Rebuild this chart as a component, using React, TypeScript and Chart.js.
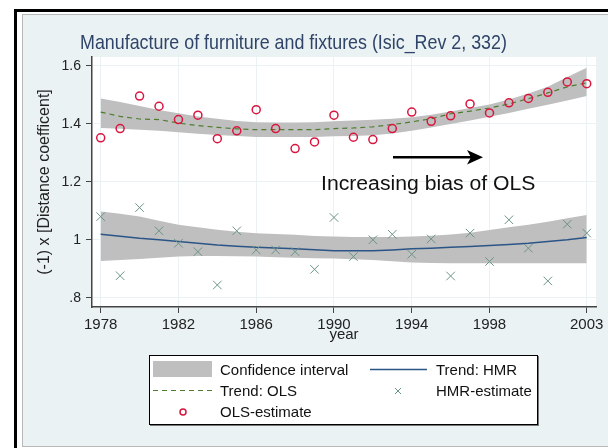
import React, { useEffect, useLayoutEffect, useRef, useState } from 'react';
import { Chart, registerables } from 'chart.js';

Chart.register(...registerables);

// ---------- data ----------
const YEARS = [1978, 1979, 1980, 1981, 1982, 1983, 1984, 1985, 1986, 1987, 1988, 1989, 1990,
  1991, 1992, 1993, 1994, 1995, 1996, 1997, 1998, 1999, 2000, 2001, 2002, 2003];

const OLS_ESTIMATE = [1.352, 1.384, 1.496, 1.461, 1.415, 1.430, 1.349, 1.376, 1.449, 1.384, 1.315, 1.338, 1.430,
  1.354, 1.346, 1.384, 1.441, 1.409, 1.428, 1.469, 1.438, 1.473, 1.488, 1.509, 1.545, 1.539];

const HMR_ESTIMATE = [1.080, 0.876, 1.111, 1.031, 0.988, 0.959, 0.844, 1.031, 0.965, 0.965, 0.959, 0.898, 1.077,
  0.942, 1.000, 1.019, 0.950, 1.003, 0.875, 1.023, 0.925, 1.069, 0.971, 0.858, 1.054, 1.023];

const OLS_TREND = [1.441, 1.426, 1.417, 1.415, 1.403, 1.394, 1.388, 1.383, 1.380, 1.380, 1.380, 1.380, 1.384,
  1.386, 1.390, 1.398, 1.407, 1.418, 1.435, 1.444, 1.455, 1.469, 1.487, 1.507, 1.528, 1.542];
const OLS_UPPER = [1.488, 1.476, 1.462, 1.448, 1.437, 1.426, 1.418, 1.410, 1.406, 1.405, 1.405, 1.406, 1.409,
  1.412, 1.414, 1.418, 1.423, 1.432, 1.443, 1.455, 1.467, 1.484, 1.505, 1.528, 1.562, 1.594];
const OLS_LOWER = [1.386, 1.383, 1.380, 1.376, 1.371, 1.366, 1.362, 1.358, 1.355, 1.355, 1.355, 1.355, 1.357,
  1.358, 1.361, 1.367, 1.376, 1.388, 1.400, 1.412, 1.425, 1.438, 1.452, 1.466, 1.481, 1.496];

const HMR_TREND = [1.019, 1.012, 1.005, 1.000, 0.994, 0.988, 0.982, 0.978, 0.974, 0.972, 0.969, 0.966, 0.962,
  0.962, 0.962, 0.965, 0.969, 0.971, 0.974, 0.977, 0.980, 0.984, 0.988, 0.994, 1.000, 1.008];
const HMR_UPPER = [1.098, 1.090, 1.080, 1.066, 1.052, 1.043, 1.035, 1.028, 1.023, 1.020, 1.017, 1.013, 1.011,
  1.010, 1.010, 1.010, 1.011, 1.014, 1.018, 1.024, 1.034, 1.043, 1.052, 1.062, 1.074, 1.086];
const HMR_LOWER = [0.927, 0.930, 0.934, 0.938, 0.942, 0.944, 0.944, 0.943, 0.942, 0.940, 0.938, 0.936, 0.935,
  0.933, 0.930, 0.926, 0.922, 0.920, 0.919, 0.919, 0.919, 0.919, 0.919, 0.919, 0.919, 0.919];

const X_TICKS = [1978, 1982, 1986, 1990, 1994, 1998, 2003];
const Y_TICKS = [0.8, 1.0, 1.2, 1.4, 1.6];
const Y_TICK_LABELS = ['.8', '1', '1.2', '1.4', '1.6'];

const TITLE = 'Manufacture of furniture and fixtures (Isic_Rev 2, 332)';
const Y_TITLE = '(-1) x [Distance coefficent]';
const X_TITLE = 'year';
const ANNOTATION = 'Increasing bias of OLS';
const LEGEND_LABELS = ['Confidence interval', 'Trend: HMR', 'Trend: OLS', 'HMR-estimate', 'OLS-estimate'];

// ---------- styles ----------
const FONT = "'Liberation Sans', Arial, Helvetica, sans-serif";
const BAND = '#bfbfbf';
const OLS_LINE = '#4f7d2f';
const HMR_LINE = '#2b5587';
const OLS_MARK = '#d9163f';
const HMR_MARK = '#6b9488';
const PANEL = '#eaf2f3';

const pts = (ys: number[]) => YEARS.map((x, i) => ({ x, y: ys[i] }));

function FitText(props: { text: string; left: number; top: number; width: number; size: number; color: string }) {
  const ref = useRef<HTMLSpanElement>(null);
  const [scale, setScale] = useState(1);
  useLayoutEffect(() => {
    if (ref.current) {
      const w = ref.current.offsetWidth;
      if (w > 0) setScale(props.width / w);
    }
  }, [props.text, props.width, props.size]);
  return (
    <span
      ref={ref}
      style={{
        position: 'absolute', left: props.left, top: props.top, fontSize: props.size,
        lineHeight: props.size + 'px', whiteSpace: 'nowrap', fontFamily: FONT, color: props.color,
        transform: `scaleX(${scale})`, transformOrigin: '0 0',
      }}
    >{props.text}</span>
  );
}

const bgPlugin = {
  id: 'plotBg',
  beforeDraw(chart: any) {
    const { ctx, chartArea } = chart;
    ctx.save();
    ctx.fillStyle = '#ffffff';
    ctx.fillRect(chartArea.left, chartArea.top, chartArea.right - chartArea.left, chartArea.bottom - chartArea.top);
    ctx.restore();
  },
};

export default function App() {
  const canvasRef = useRef<HTMLCanvasElement>(null);

  useEffect(() => {
    if (!canvasRef.current) return;
    const chart = new Chart(canvasRef.current, {
      type: 'line',
      data: {
        datasets: [
          {
            label: 'OLS-estimate', type: 'scatter', data: pts(OLS_ESTIMATE), order: 0,
            pointStyle: 'circle', pointRadius: 4, pointBorderWidth: 1.5,
            borderColor: OLS_MARK, pointBorderColor: OLS_MARK, pointBackgroundColor: 'rgba(0,0,0,0)',
            backgroundColor: 'rgba(0,0,0,0)', showLine: false,
          } as any,
          {
            label: 'HMR-estimate', type: 'scatter', data: pts(HMR_ESTIMATE), order: 1,
            pointStyle: 'crossRot', pointRadius: 6, pointBorderWidth: 1,
            borderColor: HMR_MARK, pointBorderColor: HMR_MARK, showLine: false,
          } as any,
          {
            label: 'Trend: OLS', data: pts(OLS_TREND), order: 2,
            borderColor: OLS_LINE, borderWidth: 1.2, borderDash: [5, 4], pointRadius: 0, fill: false, tension: 0,
          },
          {
            label: 'Trend: HMR', data: pts(HMR_TREND), order: 3,
            borderColor: HMR_LINE, borderWidth: 1.5, pointRadius: 0, fill: false, tension: 0,
          },
          {
            label: 'OLS lower', data: pts(OLS_LOWER), order: 5,
            borderWidth: 0, borderColor: 'rgba(0,0,0,0)', pointRadius: 0, fill: false,
          },
          {
            label: 'OLS upper', data: pts(OLS_UPPER), order: 5,
            borderWidth: 0, borderColor: 'rgba(0,0,0,0)', pointRadius: 0, fill: '-1', backgroundColor: BAND,
          },
          {
            label: 'HMR lower', data: pts(HMR_LOWER), order: 5,
            borderWidth: 0, borderColor: 'rgba(0,0,0,0)', pointRadius: 0, fill: false,
          },
          {
            label: 'HMR upper', data: pts(HMR_UPPER), order: 5,
            borderWidth: 0, borderColor: 'rgba(0,0,0,0)', pointRadius: 0, fill: '-1', backgroundColor: BAND,
          },
        ],
      },
      options: {
        animation: false,
        responsive: false,
        maintainAspectRatio: false,
        layout: { padding: { left: 22, top: 57, right: 12, bottom: 96 } },
        plugins: {
          legend: { display: false },
          title: { display: false },
          tooltip: { enabled: false },
        },
        scales: {
          x: {
            type: 'linear',
            min: 1977.553,
            max: 2003.478,
            afterBuildTicks: (scale: any) => { scale.ticks = X_TICKS.map((v) => ({ value: v })); },
            afterFit: (scale: any) => { scale.height = 45; },
            ticks: {
              autoSkip: false, maxRotation: 0, minRotation: 0, padding: 3,
              color: '#222', font: { family: FONT, size: 15 },
              callback: (v: any) => String(v),
            },
            grid: { color: PANEL, lineWidth: 1, tickColor: '#444', tickLength: 6, drawOnChartArea: true },
            border: { display: true, color: '#444', width: 1.5 },
            title: {
              display: true, text: X_TITLE, color: '#222', font: { family: FONT, size: 15 },
              padding: { top: 0, bottom: 8 },
            },
          },
          y: {
            type: 'linear',
            min: 0.768,
            max: 1.631,
            afterBuildTicks: (scale: any) => { scale.ticks = Y_TICKS.map((v) => ({ value: v })); },
            afterFit: (scale: any) => { scale.width = 70; },
            ticks: {
              autoSkip: false, padding: 5,
              color: '#222', font: { family: FONT, size: 14 },
              callback: (_v: any, i: number) => Y_TICK_LABELS[i],
            },
            grid: { color: PANEL, lineWidth: 1, tickColor: '#444', tickLength: 6, drawOnChartArea: true },
            border: { display: true, color: '#444', width: 1.5 },
            title: {
              display: true, text: Y_TITLE, color: '#222', font: { family: FONT, size: 16 },
              padding: { top: 13.4, bottom: 0 },
            },
          },
        },
      } as any,
      plugins: [bgPlugin],
    });
    return () => chart.destroy();
  }, []);

  const textStyle: React.CSSProperties = {
    position: 'absolute', fontFamily: FONT, fontSize: 15, lineHeight: '18px', color: '#111', whiteSpace: 'nowrap',
  };

  return (
    <div style={{ position: 'fixed', left: 0, top: 0, width: 608, height: 448, background: '#fff', overflow: 'hidden' }}>
      {/* outer frame: black bars on the top and the left only */}
      <div style={{ position: 'absolute', left: 14, top: 9, width: 594, height: 3, background: '#000' }} />
      <div style={{ position: 'absolute', left: 14, top: 9, width: 3, height: 439, background: '#000' }} />
      {/* panel */}
      <div style={{ position: 'absolute', left: 22, top: 14, width: 586, height: 431, background: PANEL, borderLeft: '1px solid #b8b8b8', borderTop: '1px solid #b8b8b8', borderBottom: '1px solid #b8b8b8' }} />
      <canvas ref={canvasRef} width={608} height={448} style={{ position: 'absolute', left: 0, top: 0, width: 608, height: 448 }} />

      <FitText text={TITLE} left={80} top={30.5} width={427} size={21} color="#2f4468" />
      <FitText text={ANNOTATION} left={321} top={173} width={214} size={20} color="#111" />

      {/* legend */}
      <div style={{ position: 'absolute', left: 149, top: 355, width: 389, height: 70, boxSizing: 'border-box', background: '#fff', border: '1px solid #000', boxShadow: '1px 1px 0 #777' }} />
      <div style={{ ...textStyle, left: 220, top: 361 }}>{LEGEND_LABELS[0]}</div>
      <div style={{ ...textStyle, left: 436, top: 361 }}>{LEGEND_LABELS[1]}</div>
      <div style={{ ...textStyle, left: 220, top: 382 }}>{LEGEND_LABELS[2]}</div>
      <div style={{ ...textStyle, left: 436, top: 382 }}>{LEGEND_LABELS[3]}</div>
      <div style={{ ...textStyle, left: 220, top: 403 }}>{LEGEND_LABELS[4]}</div>

      <svg width={608} height={448} style={{ position: 'absolute', left: 0, top: 0, pointerEvents: 'none' }}>
        <rect x={153} y={361} width={59} height={16} fill={BAND} />
        <line x1={370} y1={369.5} x2={427} y2={369.5} stroke={HMR_LINE} strokeWidth={1.5} />
        <line x1={153} y1={390.5} x2={212} y2={390.5} stroke={OLS_LINE} strokeWidth={1.2} strokeDasharray="5 4" />
        <line x1={395} y1={388} x2={401} y2={394} stroke={HMR_MARK} strokeWidth={1} />
        <line x1={401} y1={388} x2={395} y2={394} stroke={HMR_MARK} strokeWidth={1} />
        <circle cx={183} cy={412} r={3} fill="none" stroke={OLS_MARK} strokeWidth={1.5} />
        {/* arrow */}
        <line x1={393} y1={157.3} x2={471} y2={157.3} stroke="#000" strokeWidth={2.5} />
        <polygon points="483,157.3 467,150 471,157.3 467,164.6" fill="#000" />
      </svg>
    </div>
  );
}
